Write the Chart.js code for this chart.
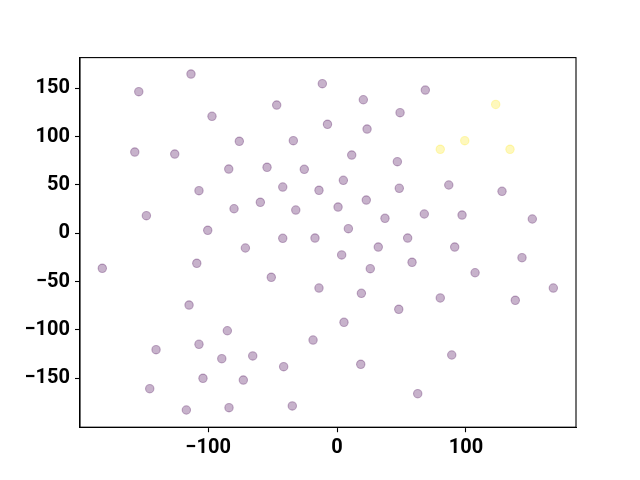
<!DOCTYPE html>
<html>
<head>
<meta charset="utf-8">
<script src="https://cdn.jsdelivr.net/npm/chart.js@4/dist/chart.umd.min.js"></script>
<style>
  html, body { margin: 0; padding: 0; background: #fff; }
  #wrap { width: 640px; height: 480px; }
</style>
</head>
<body>
<div id="wrap"><canvas id="myChart" width="640" height="480"></canvas></div>
<script>
// purple group (label 0)
var groupAX = [-113.3, -153.8, -11.4, -46.8, -97.0, -7.4, -75.8, -33.9, -156.9, -125.9,
               -84.0, -54.3, -25.4, -107.1, -42.1, -14.0, -59.5, -79.9, -32.0, -147.9,
               -100.3, -42.1, -17.1, 20.4, 68.5, 48.9, 23.3, 11.4, 46.8, 4.9,
               48.3, 86.7, 128.0, 0.8, 22.7, 37.2, 67.7, 97.0, 151.5, 8.8,
               54.8, -71.1, -182.1, -108.8, -51.0, -14.0, -114.8, -85.1, -140.4, -107.1,
               -18.6, -89.4, -65.4, -41.4, -104.0, -72.7, -145.3, -116.9, -83.8, -34.7,
               3.6, 32.0, 91.3, 143.5, 25.8, 58.2, 107.1, 18.9, 80.1, 167.8,
               138.3, 47.9, 5.4, 89.0, 18.4, 62.6];
var groupAY = [164.8, 146.5, 154.8, 132.7, 121.0, 112.8, 95.2, 95.8, 84.1, 82.0,
               66.5, 68.3, 66.2, 44.1, 47.9, 44.5, 32.1, 25.4, 24.1, 18.2,
               3.1, -5.2, -4.9, 138.2, 148.2, 124.8, 107.9, 81.0, 74.1, 54.8,
               46.6, 50.0, 43.4, 27.2, 34.4, 15.5, 20.0, 18.9, 14.8, 4.8,
               -4.9, -15.2, -36.2, -31.0, -45.5, -56.6, -74.2, -100.8, -120.4, -114.8,
               -110.4, -129.7, -126.9, -138.0, -150.0, -151.8, -160.8, -182.8, -180.4, -178.6,
               -22.4, -14.2, -14.2, -25.2, -36.6, -30.0, -40.8, -62.1, -66.9, -56.6,
               -69.3, -78.6, -92.1, -125.9, -135.5, -165.9];
// yellow group (label 1)
var groupBX = [123.1, 99.1, 80.1, 134.2];
var groupBY = [133.4, 95.8, 86.9, 86.9];

var xTicks = [-100, 0, 100];
var yTicks = [-150, -100, -50, 0, 50, 100, 150];
var xRange = [-199.4, 185.4];
var yRange = [-200.6, 181.8];

function toPoints(xs, ys) {
  var pts = [];
  for (var i = 0; i < xs.length; i++) {
    pts.push({x: xs[i], y: ys[i]});
  }
  return pts;
}

function minusSign(v) {
  return String(v).replace('-', '\u2212');
}

// matplotlib style frame on all four sides
var framePlugin = {
  id: 'frame',
  afterDraw: function(chart) {
    var a = chart.chartArea;
    var ctx = chart.ctx;
    ctx.save();
    ctx.strokeStyle = '#000';
    ctx.lineWidth = 1.1;
    ctx.strokeRect(a.left, a.top, a.right - a.left, a.bottom - a.top);
    ctx.restore();
  }
};

var tickFont = { family: 'Roboto', size: 20, weight: 'bold' };

var ctx = document.getElementById('myChart');
var myChart = new Chart(ctx, {
  type: 'scatter',
  data: {
    datasets: [{
      data: toPoints(groupAX, groupAY),
      backgroundColor: 'rgba(68, 1, 84, 0.3)',
      borderColor: 'rgba(68, 1, 84, 0.3)',
      borderWidth: 1.1,
      pointRadius: 4.2,
      pointHoverRadius: 4.2
    }, {
      data: toPoints(groupBX, groupBY),
      backgroundColor: 'rgba(253, 231, 37, 0.3)',
      borderColor: 'rgba(253, 231, 37, 0.3)',
      borderWidth: 1.1,
      pointRadius: 4.2,
      pointHoverRadius: 4.2
    }]
  },
  options: {
    responsive: false,
    animation: false,
    layout: { padding: { left: 0, right: 64, top: 57.6, bottom: 0 } },
    plugins: {
      legend: { display: false },
      tooltip: { enabled: false }
    },
    scales: {
      x: {
        type: 'linear',
        min: xRange[0],
        max: xRange[1],
        afterBuildTicks: function(axis) {
          axis.ticks = xTicks.map(function(v) { return {value: v}; });
        },
        afterFit: function(axis) { axis.height = 52.8; },
        grid: { drawOnChartArea: false, drawTicks: true, tickLength: 5, tickWidth: 1.1, tickColor: '#000' },
        border: { display: true, color: '#000', width: 1.1 },
        ticks: {
          color: '#000',
          font: tickFont,
          padding: 4,
          maxRotation: 0,
          callback: function(v) { return minusSign(v); }
        }
      },
      y: {
        type: 'linear',
        min: yRange[0],
        max: yRange[1],
        afterBuildTicks: function(axis) {
          axis.ticks = yTicks.map(function(v) { return {value: v}; });
        },
        afterFit: function(axis) { axis.width = 80; },
        grid: { drawOnChartArea: false, drawTicks: true, tickLength: 5, tickWidth: 1.1, tickColor: '#000' },
        border: { display: true, color: '#000', width: 1.1 },
        ticks: {
          color: '#000',
          font: tickFont,
          padding: 5,
          callback: function(v) { return minusSign(v); }
        }
      }
    }
  },
  plugins: [framePlugin]
});
</script>
</body>
</html>
